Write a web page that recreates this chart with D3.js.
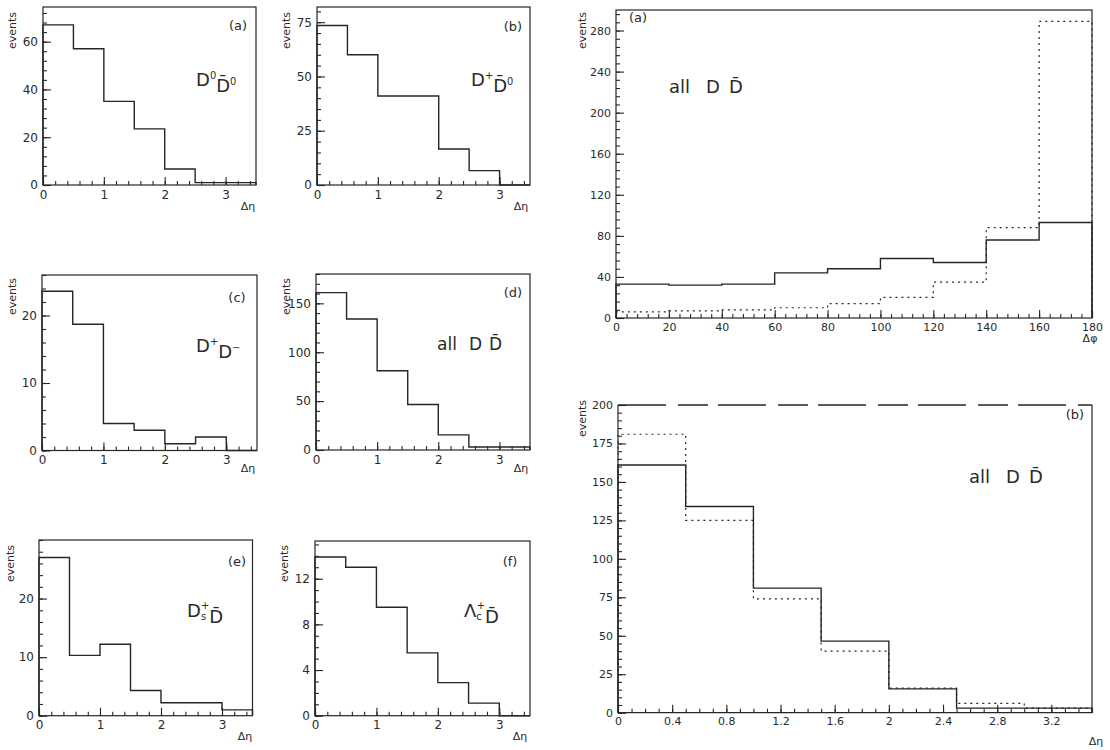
<!DOCTYPE html>
<html>
<head>
<meta charset="utf-8">
<script src="https://cdn.jsdelivr.net/npm/d3@7"></script>
<style>
  body { margin: 0; background: #fff; }
  text { font-family: "DejaVu Sans", sans-serif; fill: #2a2a2a; }
</style>
</head>
<body>
<script>
// basic formatting variables
var svgWidth = 1110;
var svgHeight = 750;

// bin edges
var etaEdges = [0, 0.5, 1, 1.5, 2, 2.5, 3, 3.5];
var phiEdges = [0, 20, 40, 60, 80, 100, 120, 140, 160, 180];

// events per bin
var d0d0bar = [67, 57, 35, 23.5, 6.7, 1, 1];
var dpd0bar = [73.5, 60, 41, 41, 16.6, 6.6, 0];
var dpdm = [23.6, 18.7, 4, 3, 1, 2, 0];
var allEta = [161, 134, 81, 46.5, 15.5, 3, 3];
var allEtaDotted = [181, 125, 74, 40, 16, 6, 3];
var dsd = [27, 10.3, 12.2, 4.3, 2.2, 2.2, 1];
var lcd = [13.9, 13, 9.5, 5.5, 2.9, 1.1, 0];
var allPhi = [33, 32, 33, 44, 48, 58, 54, 76, 93];
var allPhiDotted = [6, 7, 8, 10, 14, 20, 35, 88, 289];

// tick labels
var etaTicks = [0, 1, 2, 3];
var etaTicksWide = [0, 0.4, 0.8, 1.2, 1.6, 2, 2.4, 2.8, 3.2];
var phiTicks = [0, 20, 40, 60, 80, 100, 120, 140, 160, 180];

var svg = d3.select("body")
  .append("svg")
  .attr("width", svgWidth)
  .attr("height", svgHeight);

var ink = "#262626";

function drawPanel(p) {
  var g = svg.append("g");

  var x = d3.scaleLinear().domain([0, p.xMax]).range([p.left, p.right]);
  var y = d3.scaleLinear().domain([0, p.yMax]).range([p.bottom, p.top]);

  // minor ticks
  g.append("g")
    .attr("transform", `translate(0, ${p.bottom})`)
    .call(d3.axisBottom(x).tickValues(d3.range(0, p.xMax + 1e-6, p.xMinor)).tickSize(-4).tickFormat(""))
    .call(a => a.select(".domain").remove());
  g.append("g")
    .attr("transform", `translate(${p.left}, 0)`)
    .call(d3.axisLeft(y).tickValues(d3.range(0, p.yMax + 1e-6, p.yMinor)).tickSize(-4).tickFormat(""))
    .call(a => a.select(".domain").remove());

  // major ticks with labels
  g.append("g")
    .attr("transform", `translate(0, ${p.bottom})`)
    .call(d3.axisBottom(x).tickValues(p.xTicks).tickSize(-8).tickPadding(5).tickFormat(d3.format(".1~f")))
    .call(a => a.select(".domain").remove())
    .call(a => a.selectAll("text").attr("font-size", p.fs).attr("fill", ink));
  g.append("g")
    .attr("transform", `translate(${p.left}, 0)`)
    .call(d3.axisLeft(y).tickValues(p.yTicks).tickSize(-8).tickPadding(5))
    .call(a => a.select(".domain").remove())
    .call(a => a.selectAll("text").attr("font-size", p.fs).attr("fill", ink));

  g.selectAll(".tick line").attr("stroke", ink).attr("stroke-width", 1.1);

  // frame
  if (p.dashTop) {
    g.append("path")
      .attr("d", `M${p.left},${p.top} V${p.bottom} H${p.right} V${p.top}`)
      .attr("fill", "none").attr("stroke", ink).attr("stroke-width", 1.2);
    g.append("line")
      .attr("x1", p.left).attr("x2", p.right).attr("y1", p.top).attr("y2", p.top)
      .attr("stroke", ink).attr("stroke-width", 1.4)
      .attr("stroke-dasharray", "48,12,30,10");
  } else {
    g.append("rect")
      .attr("x", p.left).attr("y", p.top)
      .attr("width", p.right - p.left).attr("height", p.bottom - p.top)
      .attr("fill", "none").attr("stroke", ink).attr("stroke-width", 1.2);
  }

  // histograms
  var line = d3.line()
    .x(d => x(d[0]))
    .y(d => y(d[1]))
    .curve(d3.curveStepAfter);

  p.series.forEach(function(s) {
    var pts = s.values.map((v, i) => [p.edges[i], v]);
    pts.unshift([p.edges[0], 0]);
    pts.push([p.edges[p.edges.length - 1], s.values[s.values.length - 1]]);
    pts.push([p.edges[p.edges.length - 1], 0]);
    g.append("path")
      .datum(pts)
      .attr("d", line)
      .attr("fill", "none")
      .attr("stroke", ink)
      .attr("stroke-width", s.dotted ? 1.2 : 1.4)
      .attr("stroke-dasharray", s.dotted ? "2,4" : null);
  });

  // axis titles
  g.append("text")
    .attr("transform", `translate(${p.evX}, ${p.evY}) rotate(-90)`)
    .attr("text-anchor", "end")
    .attr("font-size", 11)
    .text("events");

  g.append("text")
    .attr("x", p.axX).attr("y", p.axY)
    .attr("text-anchor", "middle")
    .attr("font-size", 11)
    .text(p.axText);

  g.append("text")
    .attr("x", p.tagX).attr("y", p.tagY)
    .attr("text-anchor", "middle")
    .attr("font-size", 13)
    .text(p.tag);

  return g;
}

// D with a bar over it
function dbar(t, sup) {
  t.append("tspan").text("D\u0304");
  if (sup) {
    t.append("tspan").attr("font-size", "0.55em").attr("dy", "-0.7em").text(sup);
  }
}

var small = { xMax: 3.5, xMinor: 0.2, xTicks: etaTicks, edges: etaEdges, fs: 12 };

var pa = drawPanel(Object.assign({}, small, {
  left: 43, right: 256, top: 7, bottom: 185, yMax: 74.5, yTicks: [0, 20, 40, 60], yMinor: 4,
  series: [{ values: d0d0bar }], evX: 16, evY: 12, axX: 248, axY: 210, axText: "Δη",
  tagX: 238, tagY: 30, tag: "(a)"
}));
var ta = pa.append("text").attr("x", 196).attr("y", 86).attr("font-size", 18);
ta.append("tspan").text("D");
ta.append("tspan").attr("font-size", "0.55em").attr("dy", "-0.7em").text("0");
ta.append("tspan").attr("dy", "0.7em").text("D\u0304");
ta.append("tspan").attr("font-size", "0.55em").attr("dy", "-0.7em").text("0");

var pb = drawPanel(Object.assign({}, small, {
  left: 317, right: 530, top: 7, bottom: 185, yMax: 82, yTicks: [0, 25, 50, 75], yMinor: 5,
  series: [{ values: dpd0bar }], evX: 290, evY: 12, axX: 521, axY: 210, axText: "Δη",
  tagX: 513, tagY: 31, tag: "(b)"
}));
var tb = pb.append("text").attr("x", 471).attr("y", 86).attr("font-size", 18);
tb.append("tspan").text("D");
tb.append("tspan").attr("font-size", "0.55em").attr("dy", "-0.7em").text("+");
tb.append("tspan").attr("dy", "0.7em").text("D\u0304");
tb.append("tspan").attr("font-size", "0.55em").attr("dy", "-0.7em").text("0");

var pc = drawPanel(Object.assign({}, small, {
  left: 42, right: 257, top: 275, bottom: 450.5, yMax: 26, yTicks: [0, 10, 20], yMinor: 2,
  series: [{ values: dpdm }], evX: 16, evY: 278, axX: 248, axY: 472, axText: "Δη",
  tagX: 237, tagY: 302, tag: "(c)"
}));
var tc = pc.append("text").attr("x", 196).attr("y", 352).attr("font-size", 18);
tc.append("tspan").text("D");
tc.append("tspan").attr("font-size", "0.55em").attr("dy", "-0.7em").text("+");
tc.append("tspan").attr("dy", "0.7em").text("D");
tc.append("tspan").attr("font-size", "0.55em").attr("dy", "-0.7em").text("\u2212");

var pd = drawPanel(Object.assign({}, small, {
  left: 316, right: 530, top: 274, bottom: 450, yMax: 180, yTicks: [0, 50, 100, 150], yMinor: 10,
  series: [{ values: allEta }], evX: 290, evY: 278, axX: 521, axY: 472, axText: "Δη",
  tagX: 513, tagY: 297, tag: "(d)"
}));
var td = pd.append("text").attr("x", 437).attr("y", 350).attr("font-size", 17);
td.append("tspan").text("all");
td.append("tspan").attr("dx", 12).text("D");
td.append("tspan").attr("dx", 7).text("D\u0304");

var pe = drawPanel(Object.assign({}, small, {
  left: 39, right: 252.5, top: 540, bottom: 715.7, yMax: 30, yTicks: [0, 10, 20], yMinor: 2,
  series: [{ values: dsd }], evX: 14, evY: 545, axX: 245, axY: 740, axText: "Δη",
  tagX: 237, tagY: 566, tag: "(e)"
}));
var te = pe.append("text").attr("x", 187).attr("y", 617).attr("font-size", 18);
te.append("tspan").text("D");
te.append("tspan").attr("font-size", "0.55em").attr("dy", "0.3em").text("s");
te.append("tspan").attr("font-size", "0.55em").attr("dx", "-0.5em").attr("dy", "-1.1em").text("+");
te.append("tspan").attr("dy", "0.8em").text("D\u0304");

var pf = drawPanel(Object.assign({}, small, {
  left: 315, right: 530, top: 541, bottom: 715.7, yMax: 15.3, yTicks: [0, 4, 8, 12], yMinor: 1,
  series: [{ values: lcd }], evX: 288, evY: 545, axX: 520, axY: 740, axText: "Δη",
  tagX: 510, tagY: 566, tag: "(f)"
}));
var tf = pf.append("text").attr("x", 464).attr("y", 617).attr("font-size", 18);
tf.append("tspan").text("Λ");
tf.append("tspan").attr("font-size", "0.55em").attr("dy", "0.3em").text("c");
tf.append("tspan").attr("font-size", "0.55em").attr("dx", "-0.5em").attr("dy", "-1.1em").text("+");
tf.append("tspan").attr("dy", "0.8em").text("D\u0304");

// right column
var pr1 = drawPanel({
  left: 616, right: 1092, top: 10, bottom: 318, xMax: 180, xMinor: 4, xTicks: phiTicks,
  yMax: 300, yTicks: [0, 40, 80, 120, 160, 200, 240, 280], yMinor: 8, edges: phiEdges, fs: 11,
  series: [{ values: allPhi }, { values: allPhiDotted, dotted: true }],
  evX: 586, evY: 12, axX: 1090, axY: 342, axText: "Δφ",
  tagX: 638, tagY: 22, tag: "(a)"
});
var tr1 = pr1.append("text").attr("x", 669).attr("y", 93).attr("font-size", 18);
tr1.append("tspan").text("all");
tr1.append("tspan").attr("dx", 16).text("D");
tr1.append("tspan").attr("dx", 9).text("D\u0304");

var pr2 = drawPanel({
  left: 618, right: 1092, top: 405, bottom: 712.7, xMax: 3.5, xMinor: 0.1, xTicks: etaTicksWide,
  yMax: 200, yTicks: [0, 25, 50, 75, 100, 125, 150, 175, 200], yMinor: 5, edges: etaEdges, fs: 11,
  series: [{ values: allEta }, { values: allEtaDotted, dotted: true }], dashTop: true,
  evX: 586, evY: 400, axX: 1096, axY: 745, axText: "Δη",
  tagX: 1075, tagY: 419, tag: "(b)"
});
var tr2 = pr2.append("text").attr("x", 969).attr("y", 483).attr("font-size", 18);
tr2.append("tspan").text("all");
tr2.append("tspan").attr("dx", 16).text("D");
tr2.append("tspan").attr("dx", 9).text("D\u0304");
</script>
</body>
</html>
